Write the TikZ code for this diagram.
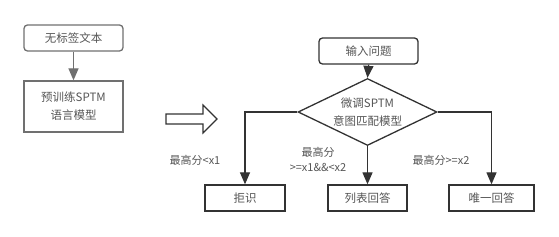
\documentclass[tikz,border=0pt]{standalone}
\usepackage{fontspec}
\usepackage{tikz}
\usetikzlibrary{arrows.meta,calc,positioning,shapes.geometric}
\newfontfamily\cjkfont{Noto Sans CJK SC}
\definecolor{figInk}{RGB}{85,85,85}
\definecolor{figGray}{RGB}{112,112,112}
\definecolor{figDark}{RGB}{51,51,51}

\begin{document}
\begin{tikzpicture}[
  x=1pt,
  y=-1pt,
  font=\cjkfont\fontsize{11.5}{18}\selectfont,
  text=figInk,
  box/.style={draw=figDark, line width=1.3pt, minimum width=80pt, minimum height=26pt, align=center, inner sep=2pt},
  graybox/.style={box, draw=figGray, minimum width=99pt},
  roundbox/.style={box, rounded corners=3.5pt, minimum width=99pt},
  decision/.style={diamond, draw=figDark, line width=1.3pt, aspect=2, inner sep=0pt, minimum width=139pt, minimum height=67pt, align=center},
  cond/.style={font=\cjkfont\fontsize{11}{15}\selectfont, align=center},
  line/.style={-{Triangle[length=12pt,width=10pt]}, draw=figDark, line width=1.3pt},
  grayline/.style={line, draw=figGray}
]
\useasboundingbox (0,0) rectangle (559,237);

% pretraining
\node[graybox, rounded corners=3.5pt] (raw) at (73.5,38) {无标签文本};
\node[graybox, minimum height=51pt] (pre) at (73.5,106.5) {预训练SPTM\\语言模型};
\draw[grayline] (raw.south) -- (pre.north);

% transfer arrow
\draw[draw=figDark, line width=1.1pt, fill=white]
  (166,114) -- (203,114) -- (203,105) -- (217,119) -- (203,133) -- (203,124) -- (166,124) -- cycle;

% fine tuning
\node[roundbox] (query) at (368.5,51) {输入问题};
\node[decision] (match) at (367.5,112) {微调SPTM\\意图匹配模型};
\node[box] (reject) at (245,198) {拒识};
\node[box, minimum width=79pt] (list) at (367.5,198) {列表回答};
\node[box, minimum width=85pt] (single) at (491.5,198) {唯一回答};

\draw[line] (query.south) -- (match.north);
\draw[line] (match.west) -| (reject.north);
\draw[line] (match.south) -- (list.north);
\draw[line] (match.east) -| (single.north);

\node[cond] (c1) at (195,160) {最高分<x1};
\node[cond] (c2) at (318,159.5) {最高分\\>=x1\&\&<x2};
\node[cond] (c3) at (441,160) {最高分>=x2};
\end{tikzpicture}
\end{document}
